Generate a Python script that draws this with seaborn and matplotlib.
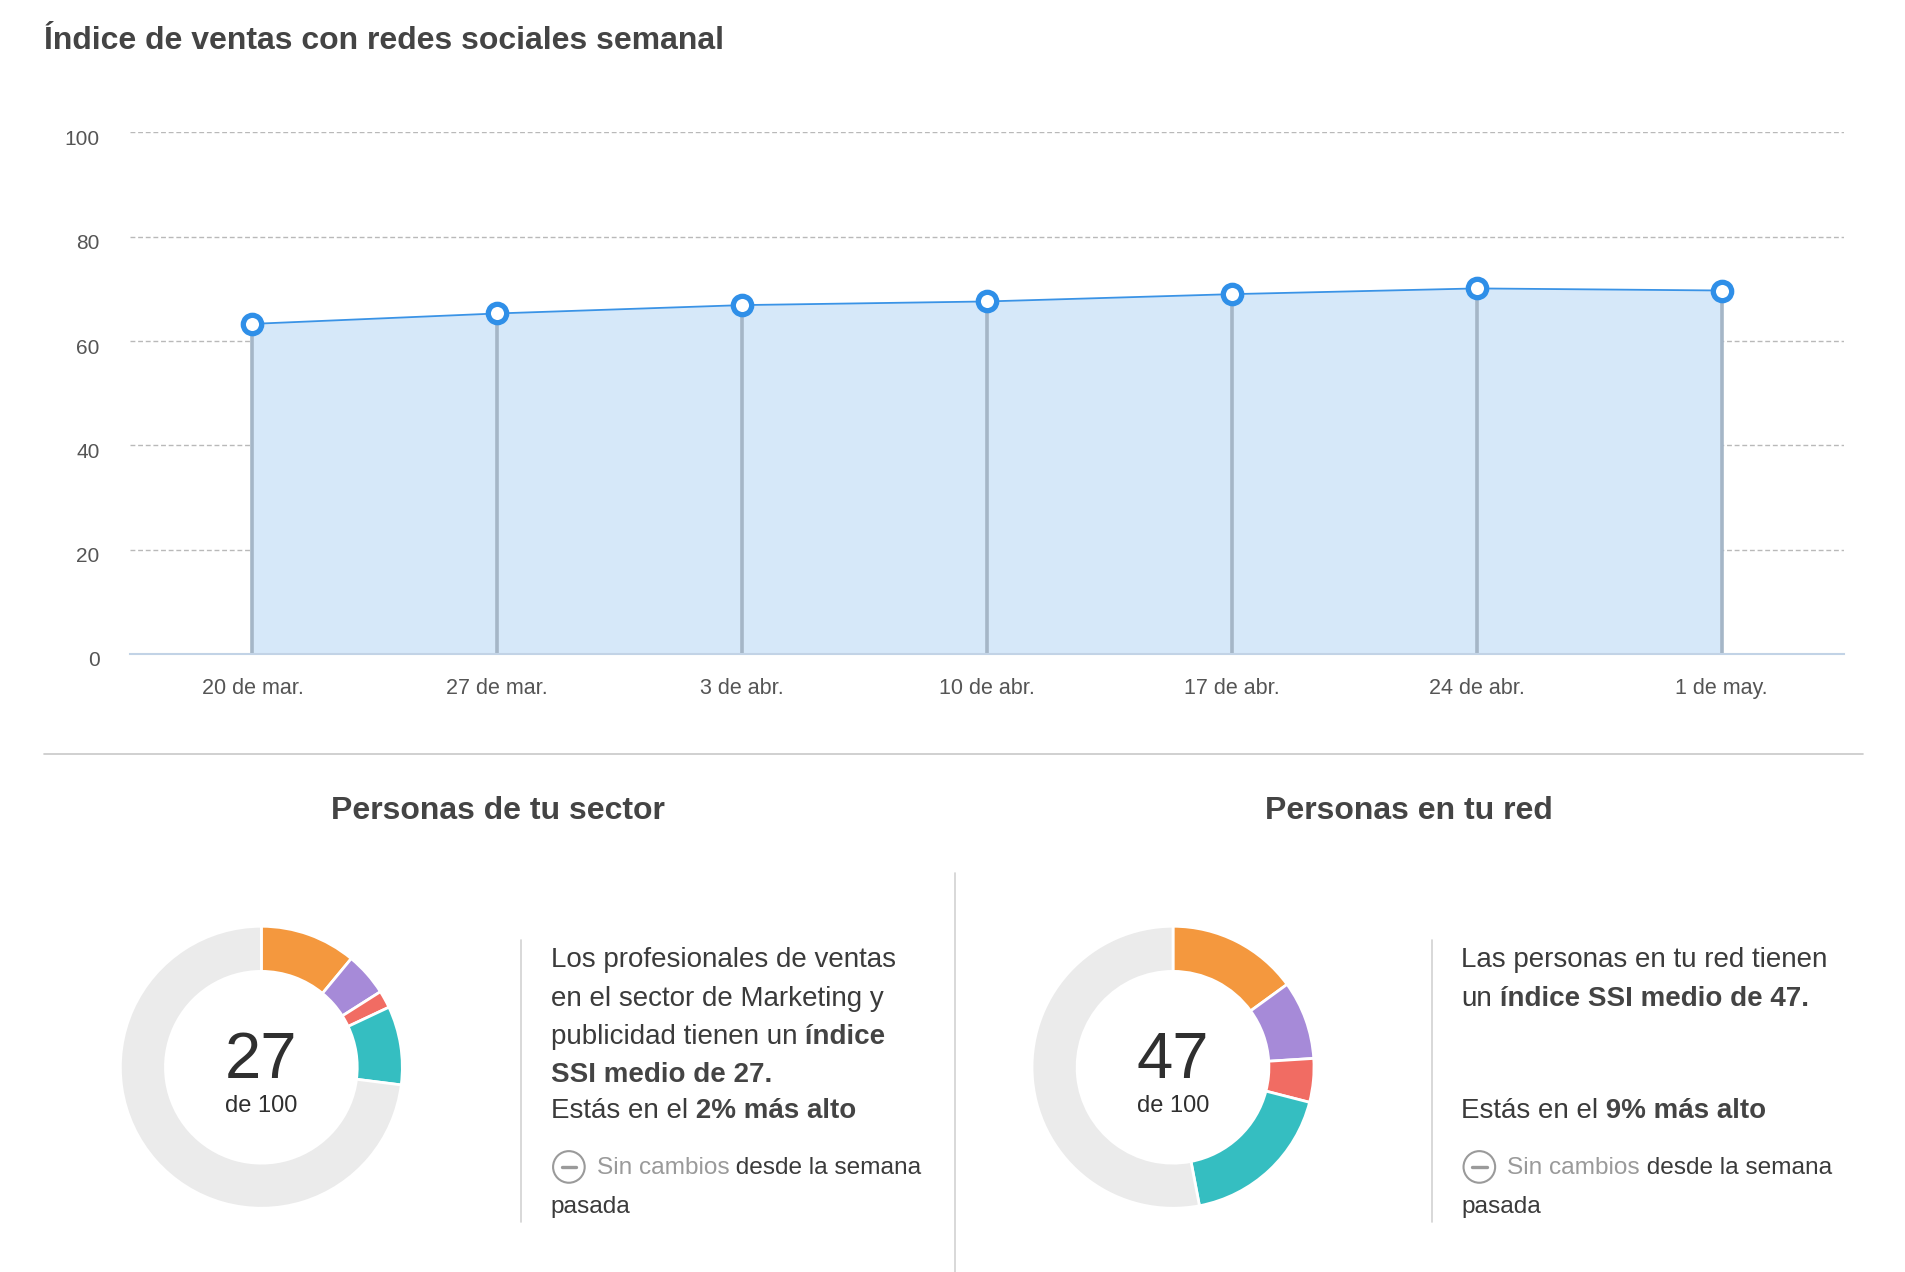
import numpy as np
import pandas as pd
import matplotlib
matplotlib.use("Agg")
import matplotlib.pyplot as plt
import seaborn as sns
from matplotlib.patches import Circle
from matplotlib.transforms import ScaledTranslation

# ---------------- data ----------------
dates = ["20 de mar.", "27 de mar.", "3 de abr.", "10 de abr.", "17 de abr.", "24 de abr.", "1 de may."]
ssi_weekly = [63.3, 65.3, 66.9, 67.6, 69.0, 70.1, 69.7]
y_ticks = [0, 20, 40, 60, 80, 100]

component_colors = ["#F4983E", "#A68AD8", "#F16C63", "#35BEC1"]
rest_color = "#EBEBEB"
sector_parts = [11, 5, 2, 9]
sector_score = 27
network_parts = [15, 9, 5, 18]
network_score = 47
scale_max = 100

title = "Índice de ventas con redes sociales semanal"
sub_left = "Personas de tu sector"
sub_right = "Personas en tu red"

# ---------------- style ----------------
sns.set_theme(style="white")
FAM = ["Liberation Sans", "DejaVu Sans"]
plt.rcParams["font.family"] = FAM

W, H = 1906, 1272
K = W / 1568.0  # layout measured on a 1568-px-wide view

fig = plt.figure(figsize=(W / 100, H / 100), dpi=100)
fig.patch.set_facecolor("white")

# overlay axes in (view) pixel coordinates
ov = fig.add_axes([0, 0, 1, 1])
ov.set_xlim(0, W / K)
ov.set_ylim(H / K, 0)
ov.set_axis_off()
renderer = fig.canvas.get_renderer()

TXT = "#3b3b3b"
BOLD = "#444444"
GREY = "#9a9a9a"


def fx(v):
    return v * K / W


def fy(v):
    return 1 - v * K / H


# ---------------- line chart ----------------
df = pd.DataFrame({"pos": np.arange(len(dates)), "ssi": ssi_weekly})
ax = fig.add_axes([fx(107), fy(538), fx(1517) - fx(107), fy(109) - fy(538)])
ax.fill_between(df["pos"], 0, df["ssi"], color="#D6E8F9", lw=0, zorder=1)
ax.vlines(df["pos"], 0, df["ssi"], color="#A5B6C7", lw=2.6, zorder=2)
sns.lineplot(data=df, x="pos", y="ssi", ax=ax, color="#3A93E6", lw=1.3, zorder=3)
sns.scatterplot(data=df, x="pos", y="ssi", ax=ax, color="white", edgecolor="#2F8FE8",
                linewidth=3.8, s=175, zorder=4, clip_on=False)
ax.set_xlim(-0.5, len(dates) - 0.5)
ax.set_ylim(0, 100)
ax.set_xticks(df["pos"], dates)
ax.set_yticks(y_ticks)
ax.set_xlabel("")
ax.set_ylabel("")
ax.set_facecolor("none")
for s in ["top", "left", "right"]:
    ax.spines[s].set_visible(False)
ax.spines["bottom"].set_color("#C2D3E6")
ax.spines["bottom"].set_linewidth(1.5)
ax.yaxis.grid(True, color="#B9B9B9", ls=(0, (3.5, 2)), lw=1)
ax.xaxis.grid(False)
ax.tick_params(axis="x", length=0, pad=17, labelsize=15.5, labelcolor="#555555")
ax.tick_params(axis="y", length=0, pad=22, labelsize=15, labelcolor="#555555")
shift = ScaledTranslation(0, -5 / 100, fig.dpi_scale_trans)
for lab in ax.get_yticklabels():
    lab.set_transform(lab.get_transform() + shift)

# ---------------- texts & separators ----------------
ov.text(36, 34, title, fontsize=23, fontweight="bold", color=BOLD, ha="left", va="center")
ov.plot([36, 1533], [620, 620], color="#C8C8C8", lw=1.2)
ov.plot([786, 786], [718, H / K], color="#D2D2D2", lw=1.2)
ov.text(410, 667, sub_left, fontsize=23, fontweight="bold", color=BOLD, ha="center", va="center")
ov.text(1159, 667, sub_right, fontsize=23, fontweight="bold", color=BOLD, ha="center", va="center")


def donut(cx, cy, parts, score):
    R = 116
    axp = fig.add_axes([fx(cx - R), fy(cy + R), fx(2 * R), fy(0) - fy(2 * R)])
    vals = list(parts) + [scale_max - score]
    cols = component_colors + [rest_color]
    axp.pie(vals, colors=cols, startangle=90, counterclock=False, radius=1,
            wedgeprops=dict(width=0.32, edgecolor="white", linewidth=2))
    axp.set_xlim(-1.0, 1.0)
    axp.set_ylim(-1.0, 1.0)
    axp.set_aspect("equal")
    axp.set_axis_off()
    ov.text(cx, cy - 5, str(score), fontsize=47, color="#2f2f2f", ha="center", va="center")
    ov.text(cx, cy + 32, "de %d" % scale_max, fontsize=17, color="#2f2f2f", ha="center", va="center")


donut(215, 878, sector_parts, sector_score)
donut(965, 878, network_parts, network_score)

BODY = 20
SMALL = 17.6


def runs(x, y, parts, size=BODY):
    for txt, kind in parts:
        if kind == "b":
            t = ov.text(x, y, txt, fontsize=size, fontweight="bold", color=BOLD, ha="left", va="center")
        elif kind == "g":
            t = ov.text(x, y, txt, fontsize=size, color=GREY, ha="left", va="center")
        else:
            t = ov.text(x, y, txt, fontsize=size, color=TXT, ha="left", va="center")
        bb = t.get_window_extent(renderer)
        x += bb.width / K


def icon(cx, cy):
    ov.add_patch(Circle((cx, cy), 13, fill=False, edgecolor="#9a9a9a", lw=1.5))
    ov.plot([cx - 6, cx + 6], [cy, cy], color="#9a9a9a", lw=2.4, solid_capstyle="round")


ys = [790, 822, 853, 884, 914]
# left block
ov.plot([429, 429], [773, 1005], color="#D2D2D2", lw=1.2)
xl = 453
runs(xl, ys[0], [("Los profesionales de ventas", "r")])
runs(xl, ys[1], [("en el sector de Marketing y", "r")])
runs(xl, ys[2], [("publicidad tienen un", "r"), (" índice", "b")])
runs(xl, ys[3], [("SSI medio de %d." % sector_score, "b")])
runs(xl, ys[4], [("Estás en el", "r"), (" 2% más alto", "b")])
icon(468, 960)
runs(491, 961, [("Sin cambios", "g"), (" desde la semana", "r")], SMALL)
runs(xl, 993, [("pasada", "r")], SMALL)

# right block
ov.plot([1178, 1178], [773, 1005], color="#D2D2D2", lw=1.2)
xr = 1202
runs(xr, ys[0], [("Las personas en tu red tienen", "r")])
runs(xr, ys[1], [("un", "r"), (" índice SSI medio de %d." % network_score, "b")])
runs(xr, ys[4], [("Estás en el", "r"), (" 9% más alto", "b")])
icon(1217, 960)
runs(1240, 961, [("Sin cambios", "g"), (" desde la semana", "r")], SMALL)
runs(xr, 993, [("pasada", "r")], SMALL)

fig.savefig("out.png", dpi=100, facecolor="white")
